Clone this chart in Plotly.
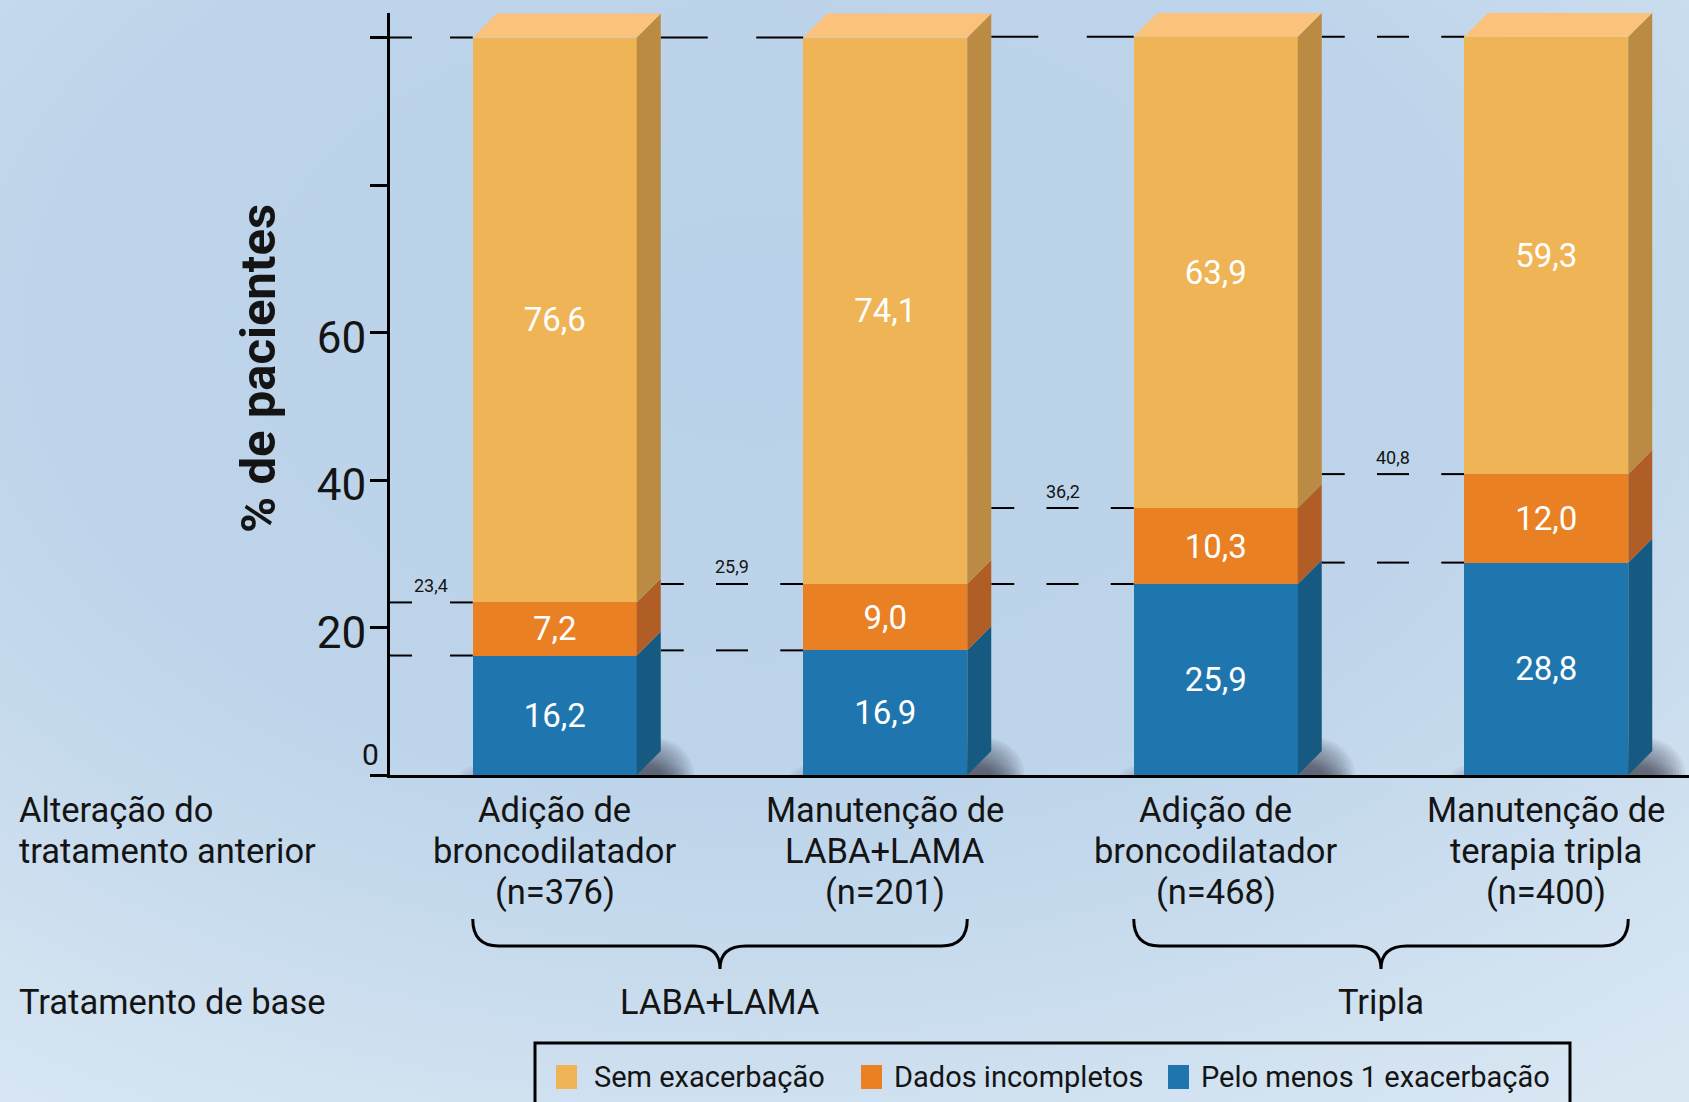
import base64
import plotly.graph_objects as go

# ---------------- data ----------------
categories = [
    "Adição de<br>broncodilatador<br>(n=376)",
    "Manutenção de<br>LABA+LAMA<br>(n=201)",
    "Adição de<br>broncodilatador<br>(n=468)",
    "Manutenção de<br>terapia tripla<br>(n=400)",
]
groups = ["LABA+LAMA", "Tripla"]
series_names = ["Pelo menos 1 exacerbação", "Dados incompletos", "Sem exacerbação"]
pelo_menos_1 = [16.2, 16.9, 25.9, 28.8]
dados_incompletos = [7.2, 9.0, 10.3, 12.0]
sem_exacerbacao = [76.6, 74.1, 63.9, 59.3]
y_tickvals = [0, 20, 40, 60, 80, 100]
y_ticktext = ["", "20", "40", "60", "", ""]
row_titles = ["Alteração do<br>tratamento anterior", "Tratamento de base"]

# ---------------- geometry / style ----------------
W, H = 1689, 1102
ML, MR, MT, MB = 390, 0, 13, 327
PW, PH = W - ML - MR, H - MT - MB
PXX = 330.5            # px per x unit
PXY = 7.375            # px per y unit
X0 = -0.4985
X1 = X0 + PW / PXX
Y1 = PH / PXY
BW = 164 / PXX
DX = 24 / PXX
DY = 24 / PXY
FONT = "Roboto, 'DejaVu Sans', sans-serif"
TXT = "#141414"
LAB = 34.5
LINE_PX = 41

front = ["#1F76AF", "#E98024", "#EFB455"]
side = ["#165A82", "#B05E26", "#BB8A43"]
topc = "#FAC27A"


def fmt(v):
    return f"{v:.1f}".replace(".", ",")


def pap_x_px(px):
    return (px - ML) / PW


def pap_y_px(py):
    return (H - MB - py) / PH


def pap_x_data(x):
    return (x - X0) / (X1 - X0)


xs = list(range(len(categories)))
series = [pelo_menos_1, dados_incompletos, sem_exacerbacao]

fig = go.Figure()

# front faces (stacked bars)
for k, vals in enumerate(series):
    fig.add_trace(go.Bar(
        x=xs, y=vals, width=BW, name=series_names[k],
        marker=dict(color=front[k], line=dict(width=0)),
        text=[fmt(v) for v in vals], textposition="inside",
        insidetextanchor="middle", textangle=0, constraintext="none",
        textfont=dict(family=FONT, size=33, color="white"),
        showlegend=False, hoverinfo="skip",
    ))

# side faces
bottoms = [0.0] * len(xs)
for k, vals in enumerate(series):
    px_, py_ = [], []
    for i, x in enumerate(xs):
        b = bottoms[i]
        t = b + vals[i]
        xr = x + BW / 2
        px_ += [xr, xr + DX, xr + DX, xr, xr, None]
        py_ += [b, b + DY, t + DY, t, b, None]
    fig.add_trace(go.Scatter(x=px_, y=py_, mode="lines", fill="toself",
                             fillcolor=side[k], line=dict(width=0),
                             showlegend=False, hoverinfo="skip"))
    bottoms = [bottoms[i] + vals[i] for i in range(len(xs))]

totals = bottoms
# top faces
tx, ty = [], []
for i, x in enumerate(xs):
    xl, xr = x - BW / 2, x + BW / 2
    t = totals[i]
    tx += [xl, xl + DX, xr + DX, xr, xl, None]
    ty += [t, t + DY, t + DY, t, t, None]
fig.add_trace(go.Scatter(x=tx, y=ty, mode="lines", fill="toself", fillcolor=topc,
                         line=dict(width=0), showlegend=False, hoverinfo="skip"))

shapes = []
annotations = []

# soft shadows at bar bases
for i, x in enumerate(xs):
    xl, xr = x - BW / 2, x + BW / 2
    for j in range(5):
        shapes.append(dict(type="circle", xref="x", yref="y", layer="below",
                           x0=xl - (14 - 3 * j) / PXX, x1=xr + DX + (30 - 5 * j) / PXX,
                           y0=-(20 - 3 * j) / PXY, y1=(20 - 3 * j) / PXY,
                           fillcolor="rgba(40,50,65,0.04)", line=dict(width=0)))
    for j in range(12):
        rx = (44 - 3 * j) / PXX
        ry = (38 - 2.6 * j) / PXY
        cx = xr + DX * 0.55
        shapes.append(dict(type="circle", xref="x", yref="y", layer="below",
                           x0=cx - rx, x1=cx + rx, y0=-ry, y1=ry,
                           fillcolor="rgba(40,50,65,0.065)", line=dict(width=0)))

# dashed reference lines in each gap
def seg(xa, xb, y):
    shapes.append(dict(type="line", xref="x", yref="y", layer="below",
                       x0=xa, x1=xb, y0=y, y1=y, line=dict(color="black", width=2)))


for i, x in enumerate(xs):
    L = x - BW / 2
    E = X0 if i == 0 else xs[i - 1] + BW / 2 + DX
    mid = (E + L) / 2
    levels = [pelo_menos_1[i], pelo_menos_1[i] + dados_incompletos[i], totals[i]]
    for li, lv in enumerate(levels):
        if i == 0:
            seg(E, E + 22 / PXX, lv)
            seg(L - 22.7 / PXX, L, lv)
        elif li == 2 and i in (1, 2):
            seg(E, E + 47 / PXX, lv)
            seg(L - 47 / PXX, L, lv)
        else:
            seg(E, E + 23 / PXX, lv)
            seg(mid - 16 / PXX, mid + 16 / PXX, lv)
            seg(L - 23 / PXX, L, lv)
    annotations.append(dict(x=mid, y=levels[1], xref="x", yref="y", yshift=17,
                            xanchor="center", yanchor="middle",
                            text=fmt(levels[1]), showarrow=False,
                            font=dict(family=FONT, size=18, color=TXT)))

# zero label
annotations.append(dict(x=pap_x_px(370), y=pap_y_px(754), xref="paper", yref="paper",
                        xanchor="center", yanchor="middle",
                        text="0", showarrow=False, font=dict(family=FONT, size=30, color=TXT)))

# y title
annotations.append(dict(x=pap_x_px(258), y=pap_y_px(369), xref="paper", yref="paper",
                        xanchor="center", yanchor="middle",
                        text="<b>% de pacientes</b>", textangle=-90, showarrow=False,
                        font=dict(family=FONT, size=49, color=TXT)))


def multiline(text, x, xref, y_first_px, xanchor="center"):
    for n, line in enumerate(text.split("<br>")):
        annotations.append(dict(x=x, y=pap_y_px(y_first_px + n * LINE_PX), xref=xref,
                                yref="paper", text=line, showarrow=False,
                                xanchor=xanchor, yanchor="middle",
                                font=dict(family=FONT, size=LAB, color=TXT)))


# category labels
for i, x in enumerate(xs):
    multiline(categories[i], x, "x", 810)

# row titles
multiline(row_titles[0], pap_x_px(17), "paper", 810, xanchor="left")
multiline(row_titles[1], pap_x_px(17), "paper", 1002, xanchor="left")

# braces + group labels
for g, (a, b) in enumerate([(0, 1), (2, 3)]):
    xl = pap_x_data(xs[a] - BW / 2)
    xr = pap_x_data(xs[b] + BW / 2)
    cx = pap_x_data((xs[a] + xs[b]) / 2)
    rx = 26 / PW
    ytop, yh, ytip = pap_y_px(919), pap_y_px(946), pap_y_px(969)
    path = (f"M {xl},{ytop} Q {xl},{yh} {xl + rx},{yh} L {cx - rx},{yh} "
            f"Q {cx},{yh} {cx},{ytip} Q {cx},{yh} {cx + rx},{yh} "
            f"L {xr - rx},{yh} Q {xr},{yh} {xr},{ytop}")
    shapes.append(dict(type="path", xref="paper", yref="paper", path=path,
                       line=dict(color="black", width=3)))
    multiline(groups[g], (xs[a] + xs[b]) / 2, "x", 1002)

# legend (manual)
shapes.append(dict(type="rect", xref="paper", yref="paper",
                   x0=pap_x_px(535), x1=pap_x_px(1570), y0=pap_y_px(1120), y1=pap_y_px(1043),
                   line=dict(color="black", width=3), fillcolor="rgba(0,0,0,0)"))
leg_sq = [1168, 861, 556]
leg_tx = [1199, 892, 592]
for k in range(3):
    shapes.append(dict(type="rect", xref="paper", yref="paper",
                       x0=pap_x_px(leg_sq[k]), x1=pap_x_px(leg_sq[k] + 21),
                       y0=pap_y_px(1089), y1=pap_y_px(1065),
                       fillcolor=front[k], line=dict(width=0)))
    annotations.append(dict(x=pap_x_px(leg_tx[k]), y=pap_y_px(1077), xref="paper", yref="paper",
                            text=series_names[k], showarrow=False, xanchor="left",
                            yanchor="middle", font=dict(family=FONT, size=29, color=TXT)))

# background gradient
svg = ("<svg xmlns='http://www.w3.org/2000/svg' width='1689' height='1102'>"
       "<defs><radialGradient id='g' cx='0.45' cy='0.3' r='0.85'>"
       "<stop offset='0' stop-color='#BAD2E9'/><stop offset='0.5' stop-color='#BDD4EA'/>"
       "<stop offset='1' stop-color='#D9E7F3'/></radialGradient></defs>"
       "<rect width='1689' height='1102' fill='url(#g)'/></svg>")
src = "data:image/svg+xml;base64," + base64.b64encode(svg.encode()).decode()

fig.update_layout(
    width=W, height=H,
    margin=dict(l=ML, r=MR, t=MT, b=MB, pad=0),
    paper_bgcolor="#BDD4EA", plot_bgcolor="rgba(0,0,0,0)",
    barmode="stack", showlegend=False,
    font=dict(family=FONT, color=TXT),
    xaxis=dict(range=[X0, X1], showgrid=False, zeroline=False, showticklabels=False,
               ticks="", showline=True, linecolor="black", linewidth=3, fixedrange=True),
    yaxis=dict(range=[0, Y1], showgrid=False, zeroline=False, showline=True,
               linecolor="black", linewidth=3, ticks="outside", ticklen=17, tickwidth=3,
               tickcolor="black", tickvals=y_tickvals, ticktext=y_ticktext,
               ticklabelstandoff=-5, ticklabelshift=5,
               tickfont=dict(family=FONT, size=44, color=TXT), fixedrange=True),
    shapes=shapes, annotations=annotations,
    images=[dict(source=src, xref="paper", yref="paper", x=pap_x_px(0), y=pap_y_px(0),
                 sizex=W / PW, sizey=H / PH, xanchor="left", yanchor="top",
                 sizing="stretch", layer="below")],
)

fig.write_html("out.html")
